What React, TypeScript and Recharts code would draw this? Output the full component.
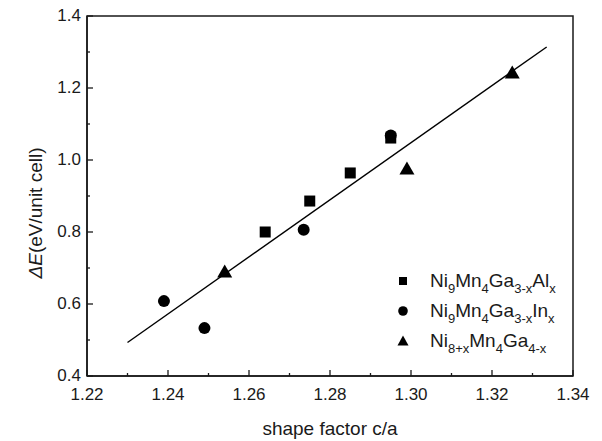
import React from 'react';
import { ScatterChart, Scatter, XAxis, YAxis, ReferenceArea } from 'recharts';

const alData = [
  { x: 1.264, y: 0.8 },
  { x: 1.275, y: 0.886 },
  { x: 1.285, y: 0.964 },
  { x: 1.295, y: 1.061 },
];
const inData = [
  { x: 1.239, y: 0.608 },
  { x: 1.249, y: 0.533 },
  { x: 1.2735, y: 0.806 },
  { x: 1.295, y: 1.068 },
];
const triData = [
  { x: 1.254, y: 0.689 },
  { x: 1.299, y: 0.975 },
  { x: 1.325, y: 1.242 },
];
const fitData = [
  { x: 1.23, y: 0.493 },
  { x: 1.3335, y: 1.314 },
];

const xMajor = [1.22, 1.24, 1.26, 1.28, 1.3, 1.32, 1.34];
const xMinor = [1.23, 1.25, 1.27, 1.29, 1.31, 1.33];
const yMajor = [0.4, 0.6, 0.8, 1.0, 1.2, 1.4];
const yMinor = [0.5, 0.7, 0.9, 1.1, 1.3];

// legend entries: [base, sub] pairs
const legendAl: [string, string][] = [['Ni', '9'], ['Mn', '4'], ['Ga', '3-x'], ['Al', 'x']];
const legendIn: [string, string][] = [['Ni', '9'], ['Mn', '4'], ['Ga', '3-x'], ['In', 'x']];
const legendTri: [string, string][] = [['Ni', '8+x'], ['Mn', '4'], ['Ga', '4-x']];

const INK = '#1a1a1a';
const FONT = '"Liberation Sans", Arial, sans-serif';

const isMajor = (v: number, arr: number[]) => arr.some((m) => Math.abs(m - v) < 1e-6);

const XTick = (props: any) => {
  const { x, y, payload } = props;
  const major = isMajor(payload.value, xMajor);
  return (
    <g>
      <line x1={x} x2={x} y1={y} y2={y - (major ? 6 : 3)} stroke={INK} strokeWidth={1.3} />
      {major && (
        <text x={x} y={y + 24} textAnchor="middle" fontSize={17} fill={INK} fontFamily={FONT}>
          {payload.value.toFixed(2)}
        </text>
      )}
    </g>
  );
};

const YTick = (props: any) => {
  const { x, y, payload } = props;
  const major = isMajor(payload.value, yMajor);
  return (
    <g>
      <line x1={x} x2={x + (major ? 6 : 3)} y1={y} y2={y} stroke={INK} strokeWidth={1.3} />
      {major && (
        <text x={x - 6} y={y + 5} textAnchor="end" fontSize={17} fill={INK} fontFamily={FONT}>
          {payload.value.toFixed(1)}
        </text>
      )}
    </g>
  );
};

const SquareShape = (p: any) => <rect x={p.cx - 5.5} y={p.cy - 5.5} width={11} height={11} fill="#000" />;
const CircleShape = (p: any) => <circle cx={p.cx} cy={p.cy} r={6} fill="#000" />;
const TriShape = (p: any) => (
  <polygon points={`${p.cx},${p.cy - 7.5} ${p.cx + 7.5},${p.cy + 5.5} ${p.cx - 7.5},${p.cy + 5.5}`} fill="#000" />
);
const NoShape = () => <g />;

const Formula = ({ parts }: { parts: [string, string][] }) => (
  <span style={{ fontSize: 19, color: INK, fontFamily: FONT }}>
    {parts.map(([b, s], i) => (
      <React.Fragment key={i}>
        {b}
        <span style={{ fontSize: 13, position: 'relative', top: 6 }}>{s}</span>
      </React.Fragment>
    ))}
  </span>
);

const LegendBox = () => {
  const rows: { marker: React.ReactNode; parts: [string, string][] }[] = [
    { marker: <rect x={3} y={3} width={8} height={8} fill="#000" />, parts: legendAl },
    { marker: <circle cx={7} cy={7} r={4.8} fill="#000" />, parts: legendIn },
    { marker: <polygon points="7,1.5 12.5,11.5 1.5,11.5" fill="#000" />, parts: legendTri },
  ];
  return (
    <div style={{ position: 'absolute', left: 396, top: 266, fontFamily: FONT }}>
      {rows.map((r, i) => (
        <div key={i} style={{ height: 30, display: 'flex', alignItems: 'center', whiteSpace: 'nowrap' }}>
          <svg width={14} height={14} style={{ marginRight: 20 }}>
            {r.marker}
          </svg>
          <Formula parts={r.parts} />
        </div>
      ))}
    </div>
  );
};

export default function App() {
  return (
    <div style={{ position: 'absolute', left: 0, top: 0, width: 602, height: 441, background: '#fff' }}>
      <ScatterChart width={602} height={441} margin={{ top: 16, right: 29, bottom: 0, left: 0 }}>
        <XAxis
          type="number"
          dataKey="x"
          domain={[1.22, 1.34]}
          ticks={[...xMajor, ...xMinor].sort((a, b) => a - b)}
          allowDataOverflow
          height={65}
          tickSize={0}
          tickMargin={0}
          tick={<XTick />}
          interval={0}
          axisLine={{ stroke: INK, strokeWidth: 1.5 }}
          label={{
            content: () => (
              <text x={330} y={435} textAnchor="middle" fontSize={19} fill={INK} fontFamily={FONT}>
                shape factor c/a
              </text>
            ),
          }}
        />
        <YAxis
          type="number"
          dataKey="y"
          domain={[0.4, 1.4]}
          ticks={[...yMajor, ...yMinor].sort((a, b) => a - b)}
          allowDataOverflow
          width={87}
          tickSize={0}
          tickMargin={0}
          tick={<YTick />}
          interval={0}
          axisLine={{ stroke: INK, strokeWidth: 1.5 }}
          label={{
            content: () => (
              <text
                x={0}
                y={0}
                transform="translate(42,213) rotate(-90)"
                textAnchor="middle"
                fontSize={19}
                fill={INK}
                fontFamily={FONT}
              >
                <tspan fontStyle="italic">ΔE</tspan>
                <tspan>(eV/unit cell)</tspan>
              </text>
            ),
          }}
        />
        <ReferenceArea x1={1.22} x2={1.34} y1={0.4} y2={1.4} fill="none" stroke={INK} strokeWidth={1.5} ifOverflow="visible" />
        <Scatter data={fitData} line={{ stroke: '#000', strokeWidth: 1.4 }} shape={<NoShape />} isAnimationActive={false} />
        <Scatter data={inData} shape={<CircleShape />} isAnimationActive={false} />
        <Scatter data={alData} shape={<SquareShape />} isAnimationActive={false} />
        <Scatter data={triData} shape={<TriShape />} isAnimationActive={false} />
      </ScatterChart>
      <LegendBox />
    </div>
  );
}
